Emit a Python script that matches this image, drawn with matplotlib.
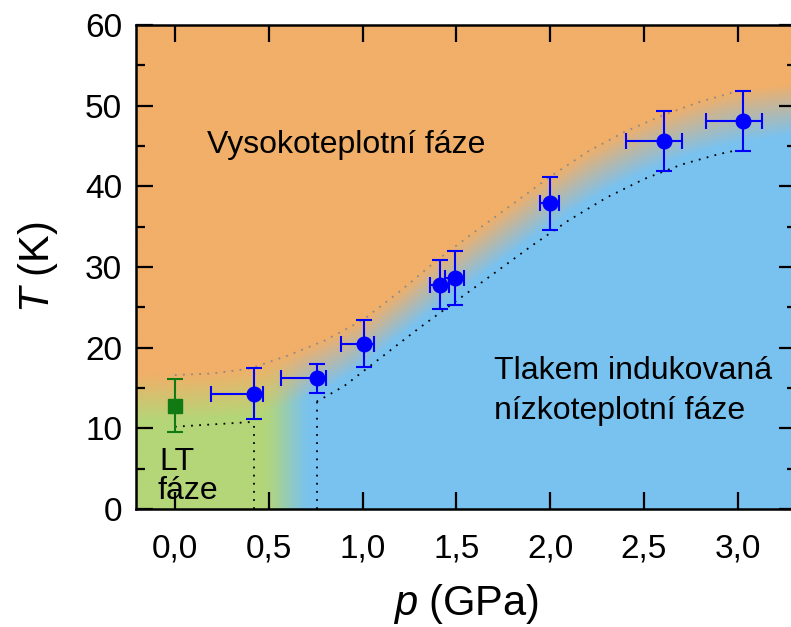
import numpy as np
import matplotlib
matplotlib.use("Agg")
import matplotlib.pyplot as plt

plt.rcParams['font.family'] = ['Liberation Sans', 'DejaVu Sans']
plt.rcParams['mathtext.fontset'] = 'custom'
plt.rcParams['mathtext.it'] = 'Liberation Sans:italic'
plt.rcParams['mathtext.rm'] = 'Liberation Sans'

# ---- data ----
p_lt = [0.0]
T_lt = [12.8]
T_lt_err = [3.3]

p_ht = [0.422, 0.757, 1.006, 1.411, 1.491, 1.998, 2.605, 3.028]
T_ht = [14.3, 16.2, 20.5, 27.8, 28.6, 37.9, 45.6, 48.1]
T_ht_err = [3.2, 1.8, 2.9, 3.05, 3.35, 3.3, 3.7, 3.75]
p_err_lo = [0.23, 0.19, 0.12, 0.05, 0.05, 0.05, 0.20, 0.20]
p_err_hi = [0.05, 0.05, 0.055, 0.05, 0.05, 0.05, 0.10, 0.10]

# upper boundary (grey dotted)
up_p = [0.0, 0.2, 0.4, 0.6, 0.8, 1.0, 1.2, 1.4, 1.6, 1.8, 2.0, 2.2, 2.4, 2.6, 2.8, 3.0]
up_T = [16.6, 16.8, 17.4, 19.0, 20.9, 23.4, 27.0, 30.9, 34.4, 37.8, 41.2, 44.3, 46.8, 48.8, 50.5, 51.8]
# lower boundary (black dotted)
lt_p = [0.0, 0.42]
lt_T = [10.2, 10.8]
lo_p = [0.755, 0.9, 1.1, 1.3, 1.5, 1.7, 1.9, 2.1, 2.3, 2.5, 2.7, 2.9, 3.0]
lo_T = [13.3, 15.2, 18.8, 22.4, 25.8, 29.2, 32.6, 35.8, 38.6, 40.9, 42.7, 44.0, 44.5]
vert_p = [0.42, 0.755]
vert_T = [10.8, 13.3]

xticks = [0.0, 0.5, 1.0, 1.5, 2.0, 2.5, 3.0]
xticklabels = ['0,0', '0,5', '1,0', '1,5', '2,0', '2,5', '3,0']
yticks = [0, 10, 20, 30, 40, 50, 60]

XMIN, XMAX = -0.207, 3.31

# ---- colours ----
orange = np.array([241, 175, 105]) / 255
blue = np.array([121, 194, 240]) / 255
green = np.array([180, 214, 120]) / 255

fig = plt.figure(figsize=(7.91, 6.27), dpi=100)
ax = fig.add_axes([136 / 791, 118 / 627, (796 - 136) / 791, (509 - 25) / 627])

# background gradient
nx, ny = 700, 600
gx = np.linspace(XMIN, XMAX, nx)
gy = np.linspace(0, 60, ny)
PX, TY = np.meshgrid(gx, gy)
bg_up_p = [XMIN - 0.1] + up_p + [XMAX + 0.1]
bg_up_T = [up_T[0]] + up_T + [53.0]
bg_lo_p = [XMIN - 0.1] + lt_p + [0.6] + lo_p + [XMAX + 0.1]
bg_lo_T = [lt_T[0]] + lt_T + [12.0] + lo_T + [46.0]
Tu = np.interp(PX, bg_up_p, bg_up_T)
Tl = np.interp(PX, bg_lo_p, bg_lo_T)
gap = Tu - Tl

def smooth(t):
    t = np.clip(t, 0, 1)
    return t * t * (3 - 2 * t)

f = np.clip((TY - (Tl + 0.12 * gap)) / (0.9 * gap), 0, 1)
g = smooth((PX - 0.45) / (0.74 - 0.45))
low = green[None, None, :] * (1 - g[..., None]) + blue[None, None, :] * g[..., None]
img = low * (1 - f[..., None]) + orange[None, None, :] * f[..., None]
ax.imshow(img, extent=[XMIN, XMAX, 0, 60], origin='lower', aspect='auto',
          interpolation='bilinear', zorder=0)

# boundary lines
ax.plot(up_p, up_T, color='#8a8a8a', lw=1.3, ls=(0, (1, 3.5)), zorder=2)
ax.plot(lt_p, lt_T, color='black', lw=1.3, ls=(0, (1, 3.5)), zorder=2)
ax.plot(lo_p, lo_T, color='black', lw=1.3, ls=(0, (1, 3.5)), zorder=2)
for vp, vt in zip(vert_p, vert_T):
    ax.plot([vp, vp], [0, vt], color='black', lw=1.3, ls=(0, (1, 3.5)), zorder=2)

# data
ax.errorbar(p_ht, T_ht, yerr=T_ht_err, xerr=[p_err_lo, p_err_hi], fmt='o',
            color='#0000ff', ms=10.5, elinewidth=1.5, capsize=6, capthick=1.5, zorder=4)
ax.errorbar(p_lt, T_lt, yerr=T_lt_err, fmt='s', color='#127a12', ms=9.5,
            elinewidth=1.5, capsize=6, capthick=1.5, zorder=4)

# texts
tfs = 23
ax.text(0.17, 45.1, 'Vysokoteplotní fáze', fontsize=tfs, va='center', ha='left')
ax.text(1.70, 17.1, 'Tlakem indukovaná', fontsize=tfs, va='center', ha='left')
ax.text(1.70, 12.1, 'nízkoteplotní fáze', fontsize=tfs, va='center', ha='left')
ax.text(-0.085, 5.8, 'LT', fontsize=tfs, va='center', ha='left')
ax.text(-0.09, 2.2, 'fáze', fontsize=tfs, va='center', ha='left')

ax.set_xlim(XMIN, XMAX)
ax.set_ylim(0, 60)
ax.set_xticks(xticks)
ax.set_xticklabels(xticklabels)
ax.set_yticks(yticks)
ax.set_yticks(np.arange(5, 60, 10), minor=True)
ax.tick_params(which='both', direction='in', top=True, right=True, width=1.6)
ax.tick_params(which='major', length=12)
ax.tick_params(which='minor', length=6.5)
ax.tick_params(axis='x', labelsize=24, pad=18)
ax.tick_params(axis='y', labelsize=24, pad=10)
for s in ax.spines.values():
    s.set_linewidth(1.8)

ax.set_xlabel(r'$p$ (GPa)', fontsize=30, labelpad=12)
ax.set_ylabel(r'$T$ (K)', fontsize=30, labelpad=18)

fig.savefig('out.png', dpi=100)
